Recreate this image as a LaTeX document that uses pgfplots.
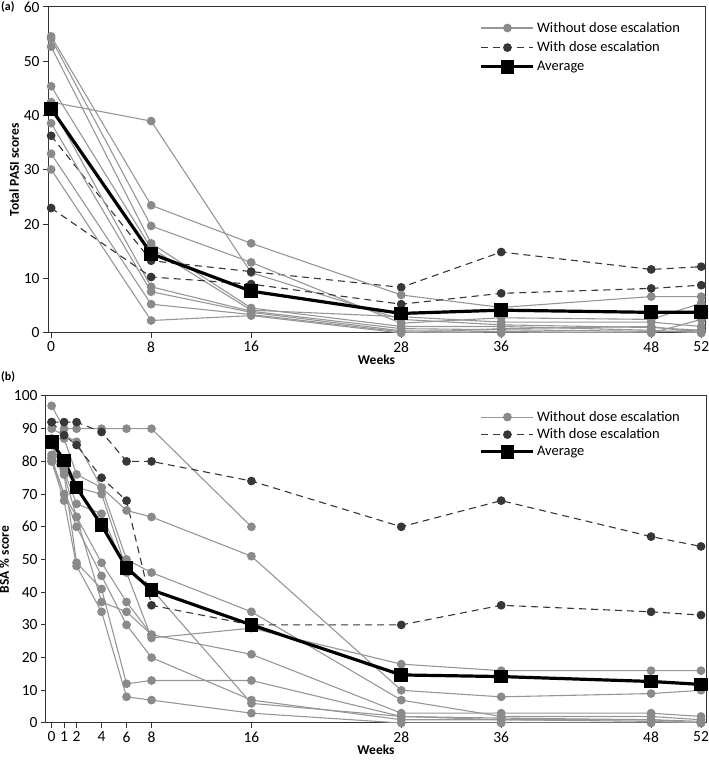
\documentclass[border=0pt]{standalone}
\usepackage{fontspec}
\setmainfont{Carlito}
\usepackage{pgfplots}
\pgfplotsset{compat=1.18}
\definecolor{gl}{RGB}{150,150,150}
\definecolor{gm}{RGB}{138,138,138}
\definecolor{dk}{RGB}{55,55,55}
\definecolor{axc}{RGB}{50,50,50}
\begin{document}
\begin{tikzpicture}
\useasboundingbox (0pt,0pt) rectangle (709pt,760pt);
\pgfplotsset{
 gr/.style={color=gl, line width=1.1pt, mark=*, mark size=3.8pt, mark options={fill=gm,draw=gm}},
 ds/.style={color=dk, line width=1.1pt, dash pattern=on 7pt off 5pt, mark=*, mark size=3.8pt, mark options={solid,fill=dk,draw=dk}},
 av/.style={color=black, line width=3.2pt, mark=square*, mark size=5.3pt, mark options={solid,fill=black}},
 myax/.style={scale only axis, axis line style={axc, line width=1pt}, tick style={axc, line width=1pt},
   tick align=outside, major tick length=5pt, xtick pos=bottom, ytick pos=left,
   tick label style={font=\fontsize{15.5}{17}\selectfont}, /pgf/number format/assume math mode=true,
   label style={font=\fontsize{13.5}{15}\selectfont\bfseries},
   xlabel style={yshift=4pt}, ylabel style={yshift=-2pt},
   legend cell align=left,
   legend style={draw=none, fill=none, font=\fontsize{14.5}{16}\selectfont, row sep=4pt, inner sep=0pt, anchor=north west},
   legend image code/.code={\draw[mark repeat=2,mark phase=2,##1] plot coordinates {(0pt,0pt) (26pt,0pt) (52pt,0pt)};},
 }
}
% ---------------- panel (a)
\begin{axis}[myax, at={(48pt,427pt)}, anchor=south west, width=657pt, height=326pt,
  xmin=-0.25, xmax=52.3, ymin=0, ymax=60,
  xtick={0,8,16,28,36,48,52}, ytick={0,10,20,30,40,50,60},
  xlabel={Weeks}, ylabel={Total PASI scores},
  legend style={at={(0.657,0.96)}}]
\addplot[gr] coordinates {(0,42.5) (8,39.0) (16,11.1) (28,2.5) (36,1.5) (48,1.0) (52,0.5)};
\addlegendentry{Without dose escalation}
\addplot[ds] coordinates {(0,36.3) (8,13.3) (16,11.3) (28,8.4) (36,14.9) (48,11.7) (52,12.2)};
\addlegendentry{With dose escalation}
\addplot[gr,forget plot] coordinates {(0,54.6) (8,23.5) (16,16.5) (28,7.0) (36,4.7) (48,6.7) (52,6.7)};
\addplot[gr,forget plot] coordinates {(0,54.2) (8,19.7) (16,13.0) (28,1.8) (36,2.8) (48,2.5) (52,5.5)};
\addplot[gr,forget plot] coordinates {(0,52.7) (8,16.5) (16,4.6) (28,1.2) (36,1.2) (48,0.5) (52,0.0)};
\addplot[gr,forget plot] coordinates {(0,45.4) (8,15.6) (16,4.2) (28,3.0) (36,2.0) (48,2.0) (52,1.2)};
\addplot[gr,forget plot] coordinates {(0,41.8) (8,8.5) (16,4.0) (28,0.8) (36,0.6) (48,0.3) (52,0.2)};
\addplot[gr,forget plot] coordinates {(0,38.6) (8,7.6) (16,3.8) (28,0.4) (36,0.3) (48,0.0) (52,2.5)};
\addplot[gr,forget plot] coordinates {(0,33.0) (8,5.3) (16,3.4) (28,0.2) (36,0.0) (48,0.2) (52,0.5)};
\addplot[gr,forget plot] coordinates {(0,30.1) (8,2.3) (16,3.2) (28,0.0) (36,0.8) (48,1.2) (52,0.0)};
\addplot[ds,forget plot] coordinates {(0,23.0) (8,10.3) (16,9.0) (28,5.3) (36,7.3) (48,8.2) (52,8.8)};
\addplot[av] coordinates {(0,41.3) (8,14.6) (16,7.7) (28,3.6) (36,4.2) (48,3.8) (52,3.8)};
\addlegendentry{Average}
\end{axis}
% ---------------- panel (b)
\begin{axis}[myax, at={(46pt,37pt)}, anchor=south west, width=660pt, height=327pt,
  xmin=-0.45, xmax=52.4, ymin=0, ymax=100,
  xtick={0,1,2,4,6,8,16,28,36,48,52}, ytick={0,10,...,100},
  xlabel={Weeks}, ylabel={BSA \% score},
  legend style={at={(0.657,0.96)}, row sep=2pt}]
\addplot[gr] coordinates {(0,97) (1,90) (2,90) (4,90) (6,90) (8,90) (16,60)};
\addlegendentry{Without dose escalation}
\addplot[ds] coordinates {(0,92) (1,92) (2,92) (4,89) (6,80) (8,80) (16,74) (28,60) (36,68) (48,57) (52,54)};
\addlegendentry{With dose escalation}
\addplot[gr,forget plot] coordinates {(0,90) (1,88) (2,86) (4,72) (6,65) (8,63) (16,51) (28,10) (36,8) (48,9) (52,10)};
\addplot[gr,forget plot] coordinates {(0,87) (1,87) (2,76) (4,72) (6,50) (8,46) (16,34) (28,7) (36,2) (48,2) (52,1)};
\addplot[gr,forget plot] coordinates {(0,85) (1,78) (2,72) (4,70) (6,47) (8,41) (16,6) (28,2) (36,1) (48,0.5) (52,0)};
\addplot[gr,forget plot] coordinates {(0,82) (1,77) (2,67) (4,64) (6,46) (8,26) (16,29) (28,18) (36,16) (48,16) (52,16)};
\addplot[gr,forget plot] coordinates {(0,81) (1,76) (2,63) (4,49) (6,37) (8,27) (16,21) (28,3) (36,3) (48,3) (52,2)};
\addplot[gr,forget plot] coordinates {(0,80) (1,70) (2,60) (4,45) (6,30) (8,20) (16,7) (28,1) (36,1) (48,1) (52,0.5)};
\addplot[gr,forget plot] coordinates {(0,85) (1,76) (2,49) (4,41) (6,12) (8,13) (16,13) (28,2) (36,1.5) (48,1) (52,0)};
\addplot[gr,forget plot] coordinates {(0,80) (1,68) (2,48) (4,34) (6,8) (8,7) (16,3) (28,0) (36,0) (48,0) (52,0)};
\addplot[gr,forget plot] coordinates {(0,81) (1,70) (2,63) (4,37) (6,34) (8,27)};
\addplot[ds,forget plot] coordinates {(0,92) (1,88) (2,85) (4,75) (6,68) (8,36) (16,30) (28,30) (36,36) (48,34) (52,33)};
\addplot[av] coordinates {(0,86) (1,80.3) (2,72) (4,60.5) (6,47.5) (8,40.7) (16,30) (28,14.7) (36,14.2) (48,12.7) (52,11.8)};
\addlegendentry{Average}
\end{axis}
\node[anchor=north west, inner sep=0pt, font=\fontsize{12}{13}\selectfont\bfseries] at (1pt,759pt) {(a)};
\node[anchor=north west, inner sep=0pt, font=\fontsize{12}{13}\selectfont\bfseries] at (1pt,389pt) {(b)};
\end{tikzpicture}
\end{document}
